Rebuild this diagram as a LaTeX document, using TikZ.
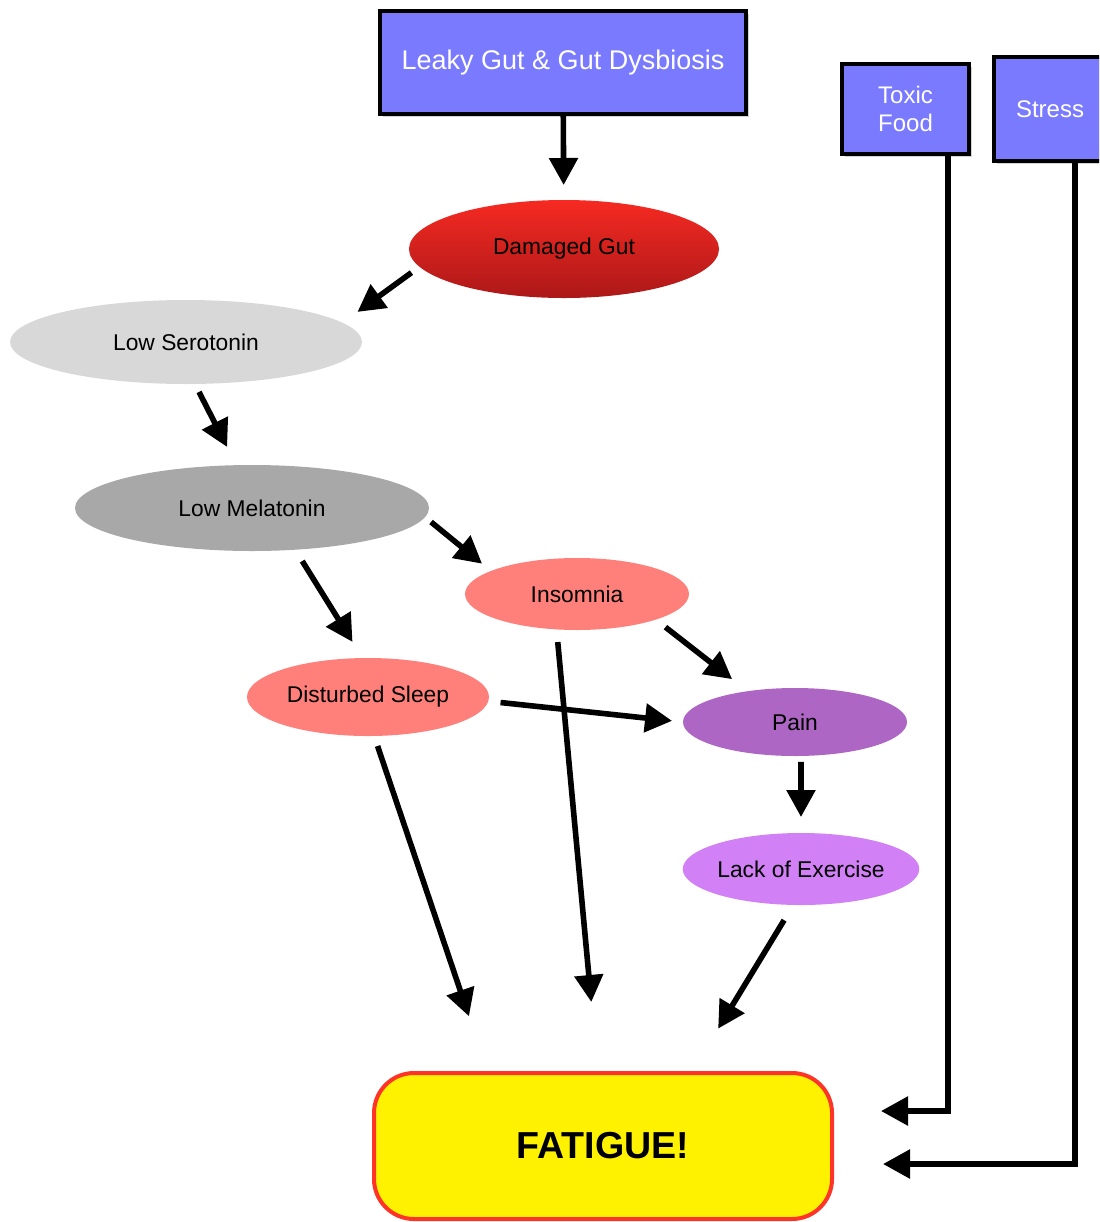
\documentclass[tikz,border=0pt]{standalone}
\usepackage{fontspec}
\setmainfont{Liberation Sans}
\usetikzlibrary{arrows.meta,shapes.geometric,shadows}

\definecolor{boxblue}{RGB}{122,122,255}
\definecolor{gutredtop}{RGB}{246,42,34}
\definecolor{gutredbot}{RGB}{172,24,24}
\definecolor{serogray}{RGB}{216,216,216}
\definecolor{melagray}{RGB}{168,168,168}
\definecolor{sleepsalmon}{RGB}{255,128,122}
\definecolor{painpurple}{RGB}{173,102,196}
\definecolor{lackpurple}{RGB}{210,128,245}
\definecolor{fatred}{RGB}{255,52,40}

\begin{document}
\begin{tikzpicture}[x=0.5pt,y=-0.5pt,
  cause/.style={rectangle,draw=black,line width=2pt,fill=boxblue,text=white,inner sep=0pt,outer sep=0pt,
    align=center,drop shadow={opacity=0.35,shadow xshift=1.5pt,shadow yshift=-1.5pt}},
  state/.style={ellipse,inner sep=0pt,outer sep=0pt,font=\fontsize{11.4}{13}\selectfont},
  arr/.style={line width=2.8pt,-{Triangle[length=13.5pt,width=14pt]}}]
\useasboundingbox (0,0) rectangle (1099,1222);
\clip (0,0) rectangle (1099,1222);

\node[cause,minimum width=183pt,minimum height=51.5pt,font=\fontsize{13.5}{16}\selectfont] (leaky) at (563,62.5) {Leaky Gut \& Gut Dysbiosis};
\node[cause,minimum width=63.5pt,minimum height=45pt,font=\fontsize{12}{14}\selectfont] (toxic) at (905.5,109) {Toxic\\Food};
\node[cause,minimum width=56pt,minimum height=52pt,font=\fontsize{12}{14}\selectfont] (stress) at (1050,109) {Stress};

\node[state,minimum width=155pt,minimum height=49pt,top color=gutredtop,bottom color=gutredbot] (dam) at (564,249) {Damaged Gut};
\node[state,minimum width=176pt,minimum height=42pt,fill=serogray] (sero) at (186,342) {Low Serotonin};
\node[state,minimum width=177pt,minimum height=43pt,fill=melagray] (mela) at (252,508) {Low Melatonin};
\node[state,minimum width=112pt,minimum height=36pt,fill=sleepsalmon] (insom) at (577,594) {Insomnia};
\node[state,minimum width=121pt,minimum height=39pt,fill=sleepsalmon] (dsleep) at (368,697) {Disturbed Sleep};
\node[state,minimum width=112pt,minimum height=34pt,fill=painpurple] (pain) at (795,722) {Pain};
\node[state,minimum width=112pt,minimum height=36pt,fill=lackpurple] (lack) at (801,869) {Lack of Exercise};

\node[draw=fatred,fill=yellow,line width=2pt,rounded corners=20pt,minimum width=229pt,minimum height=73pt,
  font=\fontsize{18.8}{20}\selectfont\bfseries] (fat) at (603,1146) {FATIGUE!};

\draw[arr,shorten >=7.5pt] (leaky) -- (dam);
\draw[arr,shorten <=5pt,shorten >=9.25pt] (dam.187.6) -- (sero.7.2);
\draw[arr,shorten <=4.5pt,shorten >=10.2pt] (sero.282) -- (mela.110.4);
\draw[arr,shorten <=3.9pt,shorten >=5.75pt] (mela.357) -- (insom.165.5);
\draw[arr,shorten <=6.7pt,shorten >=9.5pt] (mela.316) -- (dsleep.98.7);
\draw[arr,shorten <=6.15pt,shorten >=9.8pt] (insom.342.2) -- (pain.147);
\draw[arr,shorten <=6.15pt,shorten >=5.5pt] (dsleep.358.8) -- (pain.180.7);
\draw[arr,shorten <=6.35pt,shorten >=34.65pt] (insom.240.3) -- (fat.94.35);
\draw[arr,shorten <=5.3pt,shorten >=28.9pt] (dsleep.279.8) -- (fat.147.8);
\draw[arr,shorten <=3pt,shorten >=8pt] (pain.280) -- (lack.north);
\draw[arr,shorten <=8.9pt,shorten >=24.8pt] (lack.258.2) -- (fat.40.8);

\coordinate (toxin) at ([xshift=23.5pt,yshift=17.5pt]fat.east);
\coordinate (stressin) at ([xshift=24.5pt,yshift=-9pt]fat.east);
\draw[arr] ([xshift=21.25pt]toxic.south) |- (toxin);
\draw[arr] ([xshift=12.5pt]stress.south) |- (stressin);
\end{tikzpicture}
\end{document}
